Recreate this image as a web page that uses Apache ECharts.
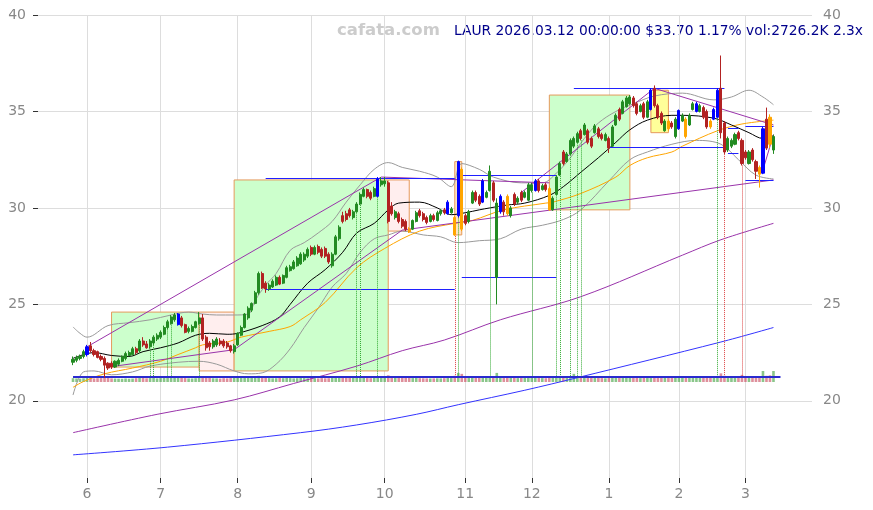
<!DOCTYPE html>
<html>
<head>
<meta charset="utf-8">
<script src="https://cdn.jsdelivr.net/npm/echarts@6/dist/echarts.min.js"></script>
<style>
  html, body { margin: 0; padding: 0; background: #fff; }
  #chart { width: 873px; height: 510px; }
</style>
</head>
<body>
<div id="chart"></div>
<script>
// daily candles [open, close, low, high], trading days 2025-05-27 .. 2026-03-12
var candles = [
  [22.0,22.15,21.85,22.3],[22.1,22.25,22.0,22.35],[22.2,22.3,22.1,22.4],[22.3,22.55,22.2,22.65],[22.4,22.8,22.3,22.9],
  [22.85,22.6,22.5,23.05],[22.6,22.4,22.3,22.7],[22.55,22.25,22.2,22.6],[22.3,22.15,22.05,22.4],[22.2,21.85,21.2,22.3],
  [21.95,21.7,21.6,22.0],[21.95,21.75,21.65,22.05],[21.75,22.05,21.7,22.1],[21.9,22.1,21.8,22.2],[22.05,22.3,22.0,22.35],
  [22.2,22.45,22.1,22.55],[22.35,22.5,22.3,22.6],[22.4,22.7,22.35,22.8],[22.7,22.5,22.4,22.8],[22.6,23.1,22.5,23.2],
  [23.1,22.9,22.8,23.3],[22.95,22.75,22.7,23.1],[22.8,23.1,22.7,23.2],[23.0,23.3,22.9,23.4],[23.2,23.4,23.1,23.5],
  [23.3,23.55,23.2,23.65],[23.45,23.8,23.4,23.9],[23.8,24.1,23.7,24.2],[24.0,24.35,23.95,24.45],[24.2,24.45,24.1,24.55],
  [23.95,24.5,23.9,24.55],[24.3,23.9,23.8,24.4],[23.95,23.55,23.5,24.0],[23.6,23.75,23.5,23.85],[23.6,23.85,23.55,23.95],
  [23.8,24.1,23.75,24.15],[24.0,24.3,23.95,24.6],[24.3,23.2,23.1,24.5],[23.3,22.75,22.6,23.4],[23.0,22.8,22.6,23.1],
  [22.8,23.1,22.7,23.2],[22.9,23.2,22.8,23.3],[23.1,22.95,22.85,23.25],[23.1,22.85,22.75,23.2],[23.0,22.8,22.7,23.1],
  [22.85,22.6,22.5,22.9],[22.55,22.85,22.45,22.95],[22.9,23.5,22.85,23.55],[23.4,23.8,23.35,23.9],[23.8,24.5,23.75,24.55],
  [24.3,24.8,24.2,24.9],[24.7,25.05,24.6,25.1],[25.05,25.6,25.0,25.7],[25.6,26.6,25.5,26.7],[26.6,25.85,25.8,26.7],
  [26.1,25.8,25.6,26.2],[25.8,26.0,25.7,26.1],[25.9,26.2,25.85,26.3],[26.0,26.4,25.95,26.5],[26.4,26.05,26.0,26.5],
  [26.1,26.5,26.05,26.55],[26.4,26.9,26.35,27.0],[26.75,26.95,26.7,27.05],[26.85,27.2,26.8,27.3],[27.0,27.4,26.95,27.5],
  [27.1,27.6,27.05,27.7],[27.3,27.6,27.2,27.7],[27.5,27.85,27.4,27.95],[27.95,27.6,27.5,28.05],[27.6,27.95,27.55,28.05],
  [28.0,27.7,27.6,28.1],[27.85,27.5,27.4,27.95],[27.9,27.5,27.4,28.0],[27.6,27.2,27.1,27.7],[27.0,27.6,26.9,27.7],
  [27.6,28.5,27.55,28.6],[28.4,29.0,28.3,29.1],[29.6,29.3,29.2,29.8],[29.7,29.4,29.3,29.85],[29.9,29.6,29.5,30.0],
  [29.5,29.8,29.4,29.9],[29.8,30.2,29.75,30.3],[30.2,30.7,30.15,30.8],[30.6,30.95,30.55,31.05],[30.95,30.6,30.5,31.0],
  [30.8,30.5,30.4,30.9],[30.6,31.0,30.55,31.1],[30.6,31.5,30.55,31.6],[31.2,31.4,31.1,31.6],[31.25,31.4,31.1,31.6],
  [31.3,29.3,29.2,31.4],[30.1,29.7,29.6,30.3],[29.5,29.8,29.4,29.9],[29.7,29.3,29.2,29.8],[29.4,29.05,28.95,29.5],
  [29.3,28.9,28.8,29.4],[28.9,28.75,28.7,29.0],[28.9,29.35,28.85,29.4],[29.3,29.75,29.25,29.85],[29.85,29.6,29.5,29.95],
  [29.7,29.4,29.3,29.8],[29.5,29.25,29.15,29.6],[29.3,29.6,29.25,29.7],[29.6,29.4,29.3,29.7],[29.35,29.75,29.3,29.85],
  [29.7,29.85,29.6,29.95],[29.9,29.75,29.65,30.0],[29.7,30.3,29.65,30.4],[29.75,29.95,29.7,30.05],[29.5,28.6,28.55,29.6],
  [29.6,32.4,29.5,32.45],[32.0,28.9,28.8,32.1],[29.6,29.2,29.1,29.7],[29.3,29.8,29.2,29.9],[30.25,30.8,30.2,30.9],
  [30.8,30.4,30.3,30.9],[30.6,30.2,30.1,30.7],[30.3,31.4,30.25,31.5],[30.55,30.8,30.5,30.9],[30.9,31.9,30.85,32.2],
  [31.3,30.4,30.3,31.4],[26.4,30.25,25.0,30.5],[29.8,30.6,29.7,30.7],[30.3,29.8,29.6,30.4],[30.6,29.7,29.6,30.7],
  [29.6,30.0,29.5,30.1],[30.7,30.2,30.1,30.8],[30.3,30.5,30.2,30.6],[30.8,30.4,30.3,30.9],[30.55,30.8,30.5,30.9],
  [30.4,31.2,30.35,31.3],[30.9,31.2,30.8,31.3],[30.9,31.4,30.85,31.5],[31.4,30.9,30.8,31.5],[30.95,31.15,30.9,31.25],
  [31.2,30.95,30.85,31.3],[31.0,29.9,29.85,31.1],[29.9,30.5,29.85,30.6],[30.7,31.6,30.65,31.7],[31.7,32.3,31.65,32.4],
  [32.9,32.3,32.2,33.0],[32.4,32.8,32.35,32.9],[32.8,33.5,32.75,33.6],[33.2,33.6,33.1,33.7],[33.4,33.85,33.35,33.95],
  [34.0,33.6,33.5,34.1],[33.8,34.3,33.75,34.4],[34.0,33.4,33.3,34.1],[33.6,33.2,33.1,33.7],[33.9,34.25,33.85,34.35],
  [34.1,33.7,33.6,34.2],[33.8,33.6,33.5,33.9],[33.5,33.8,33.45,33.9],[33.6,33.1,32.85,33.7],[33.2,34.2,33.15,34.3],
  [34.3,34.8,34.25,34.9],[35.1,34.6,34.5,35.2],[34.9,35.5,34.85,35.6],[35.25,35.7,35.2,35.8],[35.4,35.75,35.35,35.85],
  [35.7,35.3,35.2,35.8],[35.4,34.9,34.8,35.5],[35.0,35.3,34.95,35.4],[35.4,34.7,34.6,35.5],[34.7,35.5,34.65,35.6],
  [35.1,36.1,35.05,36.2],[36.2,35.3,35.2,36.35],[35.3,34.7,34.6,35.4],[34.9,34.4,34.3,35.0],[34.0,34.5,33.95,34.6],
  [34.5,34.1,34.0,34.6],[34.4,34.2,34.1,34.5],[33.7,34.6,33.6,34.7],[34.1,35.05,34.05,35.1],[34.5,34.8,34.45,34.9],
  [34.6,33.7,33.6,34.7],[34.3,34.8,34.25,34.9],[35.1,35.4,35.05,35.5],[35.0,35.4,34.95,35.5],[35.0,35.3,34.95,35.4],
  [35.2,34.7,34.6,35.3],[35.0,34.2,34.1,35.1],[34.5,34.2,34.1,34.6],[34.6,35.1,34.55,35.2],[34.7,36.1,34.65,36.2],
  [36.2,33.9,33.6,37.9],[34.4,32.9,32.8,34.5],[33.0,33.6,32.9,33.7],[33.2,33.5,33.1,33.6],[33.3,33.8,33.25,33.9],
  [33.9,33.6,33.5,34.0],[33.5,32.3,32.2,33.6],[32.9,32.6,32.5,33.0],[32.3,32.9,32.25,33.0],[33.0,32.5,32.4,33.1],
  [32.4,31.9,31.5,32.5],[32.1,31.75,31.05,32.2],[31.8,34.1,31.75,34.2],[34.6,33.1,33.0,35.2],[34.7,33.3,33.1,34.85],
  [33.0,33.7,32.8,33.8]
];
var blueDays = [4, 30, 87, 107, 110, 117, 122, 132, 165, 173, 178, 183, 184, 197];
var orangeDays = [96, 109, 111, 124, 136, 170, 175, 182, 196, 199];

// volume in thousands
var volumes = [
  800,750,700,780,900,850,760,800,820,950,
  880,760,720,700,680,740,690,720,800,900,
  860,780,900,880,760,820,850,920,940,880,
  1000,900,820,760,740,800,880,1100,960,860,
  780,760,720,800,760,820,900,1000,950,1100,
  1000,980,1050,1300,1150,900,820,780,800,850,
  800,900,820,760,800,880,820,780,840,800,
  760,820,780,800,900,1100,1050,950,880,850,
  900,950,1000,900,820,800,850,1000,900,880,
  1400,1000,900,860,880,920,900,820,840,800,
  780,760,740,760,780,760,800,900,820,1300,
  1900,1700,1000,880,950,880,860,1000,860,1000,
  900,1900,1100,950,1000,880,900,820,840,860,
  900,900,950,880,820,800,1200,1000,1050,1000,
  1000,950,1100,1700,1000,950,900,880,860,900,
  850,820,780,900,950,1000,900,950,900,880,
  850,880,820,860,900,1000,1050,950,900,880,
  860,840,900,1000,880,1000,900,860,900,880,
  900,950,900,920,1000,1800,1300,1000,950,900,
  900,1500,1100,1000,1050,1100,1200,3000,1300,1400,
  2726
];
var avgVolume = 1185;

var monthLabels = ['6', '7', '8', '9', '10', '11', '12', '1', '2', '3'];
var monthStartDay = [4, 25, 47, 68, 89, 112, 131, 153, 173, 192];
var priceTicks = [20, 25, 30, 35, 40];

// indicator lines: [day, price]
var ma20 = [[0,22.2],[6,22.5],[11,22.35],[16,22.3],[20,22.55],[25,22.75],[30,23.0],[35,23.4],[39,23.5],[44,23.45],[47,23.5],
  [54,23.9],[59,24.35],[62,25.0],[67,26.1],[72,26.8],[77,27.7],[81,28.7],[86,29.2],[90,29.9],[93,30.25],[99,30.3],
  [104,30.0],[108,29.65],[112,29.75],[116,29.9],[119,30.0],[124,30.15],[129,30.25],[136,30.65],[140,31.1],[145,31.85],
  [150,32.6],[155,33.4],[159,34.05],[164,34.55],[171,34.8],[174,34.8],[183,34.65],[188,34.3],[193,33.9],[197,33.6],[200,33.75]];
var ma50 = [[0,20.7],[3,21.0],[9,21.4],[17,21.7],[25,22.05],[30,22.4],[35,22.75],[37,22.9],[44,23.05],[48,23.3],[56,23.6],
  [62,23.85],[65,24.2],[72,25.1],[81,26.9],[89,27.9],[99,28.8],[109,29.2],[114,29.35],[123,29.9],[135,30.25],[137,30.3],
  [145,30.75],[155,31.6],[159,32.2],[164,32.6],[171,32.9],[174,33.2],[184,34.0],[191,34.35],[200,34.55]];
var bandUpper = [[0,23.83],[2,23.5],[4,23.3],[10,23.9],[16,24.05],[22,24.2],[28,24.45],[33,24.6],[37,24.5],[41,24.45],
  [46,24.45],[50,24.5],[52,25.2],[55,26.0],[58,26.6],[62,27.8],[66,28.2],[70,28.7],[74,29.3],[78,30.3],[82,31.2],[86,32.0],
  [90,32.35],[94,32.1],[99,31.9],[104,31.6],[108,31.1],[111,32.3],[116,32.0],[120,31.6],[128,31.3],[134,31.3],[138,31.8],
  [142,32.6],[146,33.6],[150,34.4],[155,35.0],[160,35.4],[166,35.8],[174,35.95],[183,35.6],[188,35.75],[193,36.1],
  [197,35.75],[200,35.35]];
var bandLower = [[0,20.3],[3,21.5],[6,21.55],[11,21.35],[17,21.5],[22,21.8],[30,22.0],[36,22.05],[41,21.9],[46,21.55],
  [50,21.4],[54,21.45],[58,21.9],[62,22.7],[66,23.8],[70,24.8],[74,25.9],[78,26.6],[82,27.7],[86,28.4],[90,28.6],
  [94,28.8],[100,28.6],[105,28.5],[110,28.2],[116,28.3],[122,28.4],[128,28.9],[134,29.1],[140,29.4],[145,29.9],
  [153,31.4],[159,32.5],[164,32.9],[171,33.3],[178,33.5],[185,33.3],[190,32.5],[195,31.7],[200,31.5]];
var maPurple = [[0,18.35],[24,19.3],[46,20.05],[63,20.9],[81,21.8],[94,22.6],[106,23.15],[122,24.2],[145,25.4],
  [174,27.55],[185,28.35],[200,29.2]];
var maBlue = [[0,17.2],[27,17.6],[65,18.35],[81,18.75],[98,19.3],[110,19.8],[129,20.55],[144,21.2],[185,23.05],[200,23.8]];

// purple trend segments [[day, price], [day, price]]
var trendLines = [
  [[4,22.8],[88,31.6]], [[10,21.75],[46,22.65]], [[46,22.65],[94,28.85]], [[94,28.85],[200,31.45]],
  [[88,31.6],[136,31.3]], [[128,30.8],[166,36.2]], [[166,36.2],[200,34.3]], [[197,31.97],[200,33.8]]
];
// blue levels [fromDay, toDay, price]
var levels = [[55,109,31.55],[111,138,31.7],[55,109,25.8],[111,138,26.4],[143,186,36.2],[153,186,33.16],
  [187,190,34.15],[187,190,32.85],[192,200,34.25],[192,200,31.45]];
// boxes [fromDay, toDay, top, bottom, kind]
var boxes = [[11,36,24.6,21.75,'up'],[36,46,24.6,21.55,'down'],[46,90,31.45,21.55,'up'],[90,96,31.45,28.8,'down'],
  [109,111,32.4,28.6,'gap'],[136,159,35.85,29.9,'up'],[165,170,36.1,33.9,'top']];
// signal days (dotted drop lines)
var signalUp = [22, 23, 27, 28, 36, 81, 82, 87, 110, 119, 131, 138, 139, 142, 144, 145, 184];
var signalDown = [109, 186, 191];
var signalFloor = 21.2;

var PAD = 10;
var N = 222;
var GREEN = '#228b22', RED = '#b22222', BLUE = '#0000ff', ORANGE = '#ffa500';

var cats = [];
for (var k = 0; k < N; k++) cats.push('d' + k);
var monthStartK = monthStartDay.map(function (d) { return d + PAD; });
function isMonth(idx) { return monthStartK.indexOf(idx) >= 0; }

var candleData = [], volData = [];
for (var k = 0; k < N; k++) {
  var i = k - PAD;
  if (i < 0 || i >= candles.length) { candleData.push('-'); volData.push('-'); continue; }
  var c = candles[i];
  var up = c[1] >= c[0];
  var item = { value: c };
  var col = null;
  if (blueDays.indexOf(i) >= 0) col = BLUE;
  if (orangeDays.indexOf(i) >= 0) col = ORANGE;
  if (col) item.itemStyle = { color: col, color0: col, borderColor: col, borderColor0: col };
  candleData.push(item);
  volData.push({ value: volumes[i], itemStyle: { color: up ? 'rgba(60,160,60,0.6)' : 'rgba(200,70,90,0.6)' } });
}

function shift(arr) { return arr.map(function (p) { return [p[0] + PAD, p[1]]; }); }
function lineSeries(name, arr, color, width) {
  return {
    name: name, type: 'line', data: shift(arr), smooth: 0.35, showSymbol: false, z: 3,
    lineStyle: { color: color, width: width }, silent: true
  };
}

var boxFill = { up: '#ccffcc', down: '#ffeeee', gap: '#ffe4c4', top: '#ffff99' };
var areaData = boxes.map(function (b) {
  return [
    { coord: [b[0] + PAD, b[2]], itemStyle: { color: boxFill[b[4]], borderColor: '#e59a5c', borderWidth: 1 } },
    { coord: [b[1] + PAD, b[3]] }
  ];
});

var trendData = trendLines.map(function (t) {
  return [{ coord: [t[0][0] + PAD, t[0][1]] }, { coord: [t[1][0] + PAD, t[1][1]] }];
});
var levelData = levels.map(function (l) {
  return [{ coord: [l[0] + PAD, l[2]] }, { coord: [l[1] + PAD, l[2]] }];
});
function dropLines(days, color) {
  return days.map(function (d) {
    return [
      { coord: [d + PAD, candles[d][2]], lineStyle: { color: color, type: 'dotted', width: 1 } },
      { coord: [d + PAD, signalFloor] }
    ];
  });
}

var chart = echarts.init(document.getElementById('chart'));
chart.setOption({
  animation: false,
  textStyle: { fontFamily: 'DejaVu Sans' },
  grid: [
    { left: 38, right: 61, top: 15, height: 463 },
    { left: 38, right: 61, top: 371, height: 11 }
  ],
  xAxis: [
    {
      type: 'category', data: cats, boundaryGap: false, gridIndex: 0,
      axisLine: { show: false },
      axisTick: { show: true, interval: function (idx) { return isMonth(idx); }, length: 5, lineStyle: { color: '#333' } },
      axisLabel: {
        interval: function (idx) { return isMonth(idx); },
        formatter: function (v, idx) { return monthLabels[monthStartK.indexOf(idx)] || ''; },
        color: '#888', fontSize: 14, margin: 9
      },
      splitLine: { show: true, interval: function (idx) { return isMonth(idx); }, lineStyle: { color: '#dddddd' } }
    },
    {
      type: 'category', data: cats, boundaryGap: false, gridIndex: 1,
      axisLine: { show: false }, axisTick: { show: false }, axisLabel: { show: false }, splitLine: { show: false }
    }
  ],
  yAxis: [
    {
      type: 'value', min: 16, max: 40, gridIndex: 0, position: 'left',
      axisLine: { show: false },
      axisTick: { show: true, length: 5, customValues: priceTicks, lineStyle: { color: '#333' } },
      axisLabel: { customValues: priceTicks, color: '#888', fontSize: 14, margin: 12 },
      splitLine: { show: true, lineStyle: { color: '#dddddd' } }
    },
    {
      type: 'value', min: 16, max: 40, gridIndex: 0, position: 'right',
      axisLine: { show: false }, axisTick: { show: false, customValues: priceTicks },
      axisLabel: { customValues: priceTicks, color: '#888', fontSize: 14, margin: 11 },
      splitLine: { show: false }
    },
    {
      type: 'value', min: 0, max: 2300, gridIndex: 1,
      axisLine: { show: false }, axisTick: { show: false }, axisLabel: { show: false }, splitLine: { show: false }
    }
  ],
  graphic: [
    { type: 'text', left: 337, top: 22, style: { text: 'cafata.com', fill: '#cccccc', font: 'bold 16.5px "DejaVu Sans"' } },
    { type: 'text', left: 454, top: 24, style: { text: 'LAUR 2026.03.12 00:00:00 $33.70 1.17% vol:2726.2K 2.3x', fill: '#00008b', font: '13.8px "DejaVu Sans"' } }
  ],
  series: [
    {
      name: 'boxes', type: 'line', data: [], z: 1, silent: true,
      markArea: { silent: true, data: areaData }
    },
    lineSeries('lower', bandLower, '#999999', 1),
    lineSeries('upper', bandUpper, '#999999', 1),
    lineSeries('ma50', ma50, '#ffa500', 1),
    lineSeries('ma20', ma20, '#000000', 1),
    lineSeries('maPurple', maPurple, '#9933aa', 1),
    lineSeries('maBlue', maBlue, '#3333ff', 1),
    {
      name: 'marks', type: 'line', data: [], z: 4, silent: true,
      markLine: {
        silent: true, symbol: 'none', label: { show: false },
        data: trendData.map(function (d) { d[0].lineStyle = { color: '#9933aa', width: 1, type: 'solid' }; return d; })
          .concat(levelData.map(function (d) { d[0].lineStyle = { color: '#2020ff', width: 1, type: 'solid' }; return d; }))
          .concat(dropLines(signalUp, '#33aa33'))
          .concat(dropLines(signalDown, '#dd4444'))
      }
    },
    {
      name: 'price', type: 'candlestick', data: candleData, barWidth: 2.6, z: 5,
      itemStyle: { color: GREEN, color0: RED, borderColor: GREEN, borderColor0: RED, borderWidth: 1 }
    },
    {
      name: 'volume', type: 'bar', xAxisIndex: 1, yAxisIndex: 2, data: volData, barWidth: 2.6, silent: true,
      markLine: {
        silent: true, symbol: 'none', label: { show: false },
        data: [[
          { coord: [PAD, avgVolume], lineStyle: { color: '#2a2ad0', width: 2, type: 'solid' } },
          { coord: [PAD + candles.length + 1, avgVolume] }
        ]]
      }
    }
  ]
});
</script>
</body>
</html>
